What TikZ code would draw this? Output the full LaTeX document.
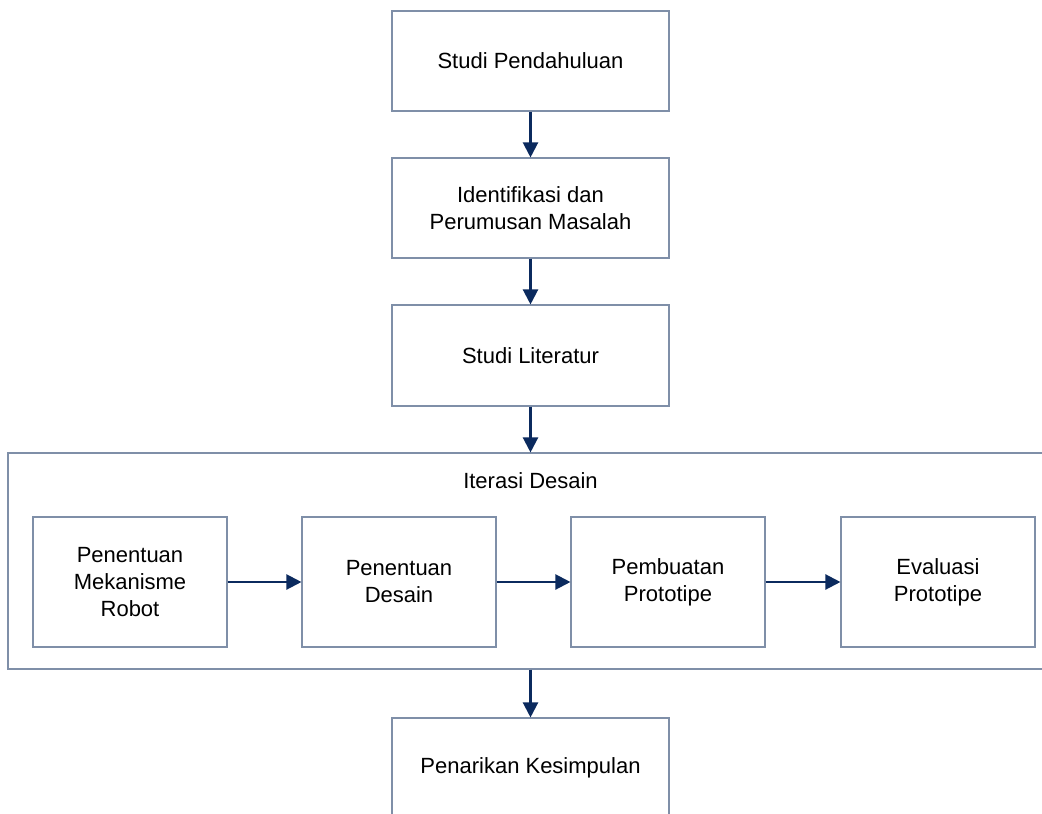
\documentclass[tikz,border=0pt]{standalone}
\usepackage{fontspec}
\setmainfont{Liberation Sans}
\usetikzlibrary{arrows.meta}
\definecolor{boxline}{HTML}{7F8FA8}
\definecolor{arrowc}{HTML}{0B2A5E}
\tikzset{
  stepbox/.style={draw=boxline, line width=1.1pt, fill=white, align=center, inner sep=0pt,
    font=\fontsize{22}{27}\selectfont},
  flow/.style={draw=arrowc, line width=2.2pt, -{Triangle[length=15pt,width=15pt]}},
}
\begin{document}
\begin{tikzpicture}[x=1pt,y=-1pt]
\useasboundingbox (0,0) rectangle (1042,814);
\clip (0,0) rectangle (1042,814);
\fill[white] (0,0) rectangle (1042,814);
% main column
\node[stepbox, minimum width=277pt, minimum height=100pt] (s1) at (530.5,61) {Studi Pendahuluan};
\node[stepbox, minimum width=277pt, minimum height=100pt] (s2) at (530.5,208) {Identifikasi dan\\Perumusan Masalah};
\node[stepbox, minimum width=277pt, minimum height=101pt] (s3) at (530.5,355.5) {Studi Literatur};
% container
\node[draw=boxline, line width=1.1pt, minimum width=1045pt, minimum height=216pt, inner sep=0pt] (it) at (530.5,561) {};
\node[font=\fontsize{22}{27}\selectfont, anchor=center] (itl) at (530.5,481) {Iterasi Desain};
\node[stepbox, minimum width=194pt, minimum height=130pt] (a) at (130,582) {Penentuan\\Mekanisme\\Robot};
\node[stepbox, minimum width=194pt, minimum height=130pt] (b) at (399,582) {Penentuan\\Desain};
\node[stepbox, minimum width=194pt, minimum height=130pt] (c) at (668,582) {Pembuatan\\Prototipe};
\node[stepbox, minimum width=194pt, minimum height=130pt] (d) at (938,582) {Evaluasi\\Prototipe};
% bottom
\node[stepbox, minimum width=277pt, minimum height=100pt] (s4) at (530.5,768) {Penarikan Kesimpulan};
% connectors
\draw[flow] (s1) -- (s2);
\draw[flow] (s2) -- (s3);
\draw[flow] (s3) -- (it);
\draw[flow] (a) -- (b);
\draw[flow] (b) -- (c);
\draw[flow] (c) -- (d);
\draw[flow] (it.south -| s4.north) -- (s4);
\end{tikzpicture}
\end{document}
